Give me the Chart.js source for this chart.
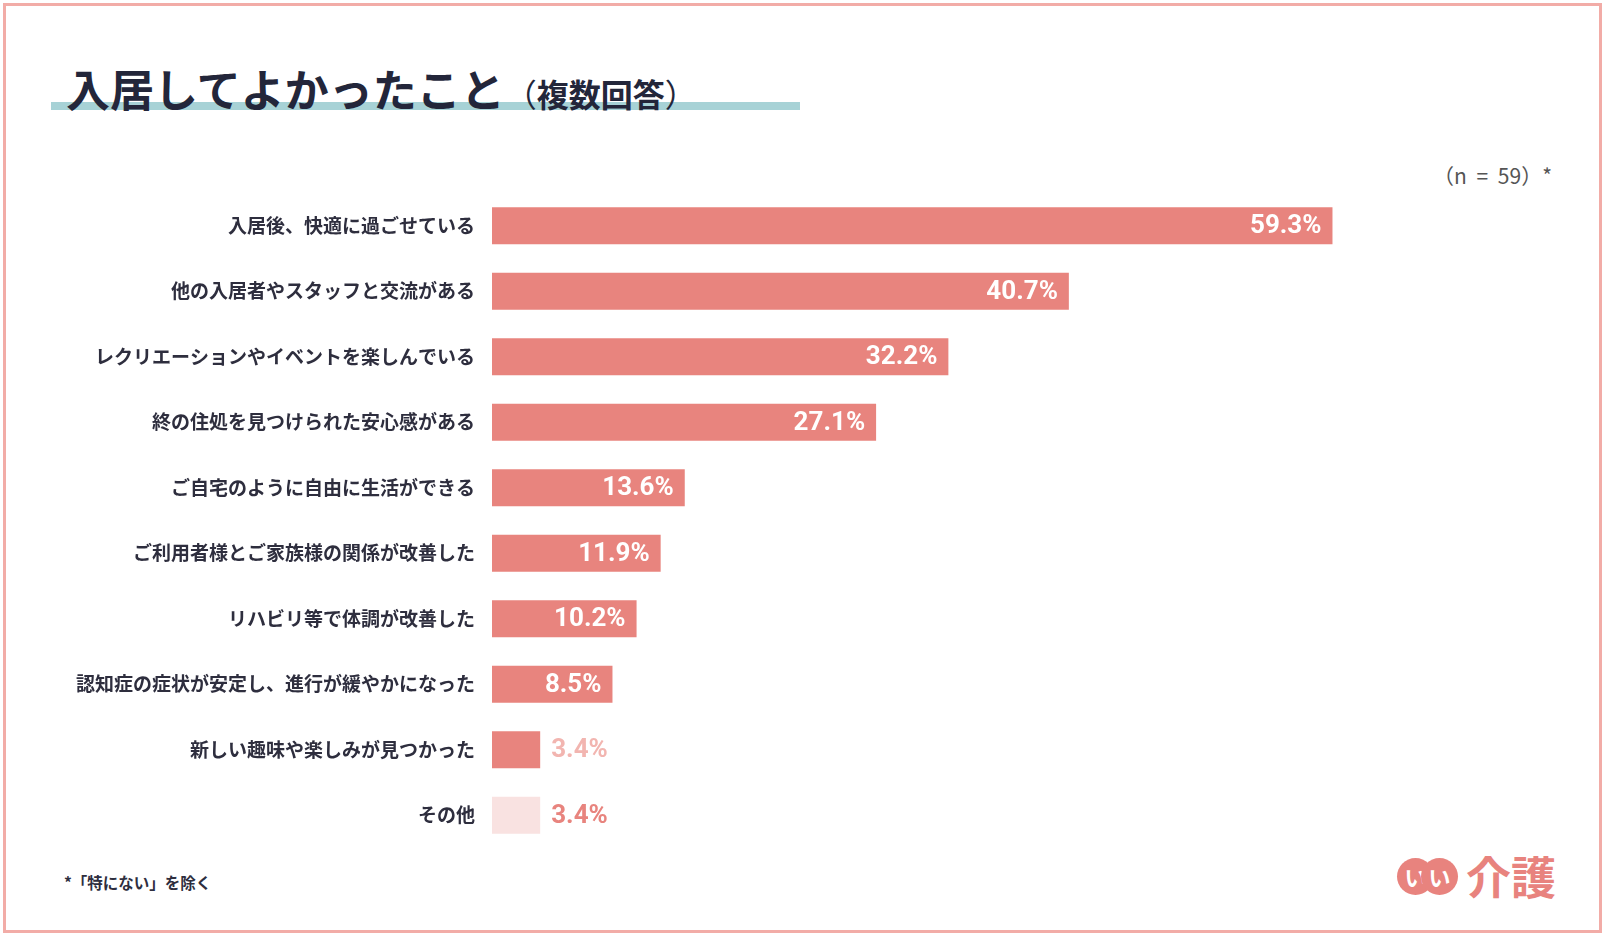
<!DOCTYPE html>
<html lang="ja">
<head>
<meta charset="utf-8">
<title>入居してよかったこと</title>
<script src="https://cdn.jsdelivr.net/npm/chart.js@4.4.1/dist/chart.umd.min.js"></script>
<style>
  html, body { margin: 0; padding: 0; background: #fff; }
  body { width: 1610px; height: 941px; position: relative; overflow: hidden;
         font-family: "Noto Sans CJK JP", "Noto Sans", sans-serif; }
  .frame { position: absolute; left: 3px; top: 3px; width: 1593px; height: 924px;
           border: 3px solid #f2aca7; }
  .title-line { position: absolute; left: 51px; top: 102px; width: 749px; height: 8px; background: #a7d2d6; }
  .title { position: absolute; left: 66px; top: 64px; font-size: 44px; line-height: 48px; font-weight: 700;
           color: #23263a; white-space: nowrap; }
  .title small { font-size: 32px; font-weight: 700; }
  .title small .p { font-weight: 400; }
  .n-note { position: absolute; right: 58px; top: 160px; font-size: 21px; color: #555; white-space: nowrap;
            word-spacing: 5px; }
  .footnote { position: absolute; left: 64px; top: 871px; font-size: 15.5px; font-weight: 700; color: #2e2e3e; }
  .logo { position: absolute; left: 1397px; top: 852px; height: 48px; display: flex; align-items: center; }
  .logo .dot { width: 37px; height: 37px; border-radius: 50%; background: #e8837e; color: #fff;
               font-size: 22px; font-weight: 700; display: flex; align-items: center; justify-content: center; }
  .logo .dot + .dot { margin-left: -13px; }
  .logo .word { margin-left: 8px; font-size: 45px; font-weight: 700; color: #e8837e; line-height: 48px; }
  #chart-wrap { position: absolute; left: 0; top: 0; width: 1610px; height: 941px; }
</style>
</head>
<body>
<div class="frame"></div>
<div class="title-line"></div>
<div class="title">入居してよかったこと<small><span class="p">（</span>複数回答<span class="p">）</span></small></div>
<div class="n-note">（n = 59）*</div>
<div class="footnote">*「特にない」を除く</div>
<div class="logo"><div class="dot">い</div><div class="dot">い</div><div class="word">介護</div></div>
<div id="chart-wrap"><canvas id="barChart"></canvas></div>

<script>
// ===== DATA =====
const categories = [
    '入居後、快適に過ごせている',
    '他の入居者やスタッフと交流がある',
    'レクリエーションやイベントを楽しんでいる',
    '終の住処を見つけられた安心感がある',
    'ご自宅のように自由に生活ができる',
    'ご利用者様とご家族様の関係が改善した',
    'リハビリ等で体調が改善した',
    '認知症の症状が安定し、進行が緩やかになった',
    '新しい趣味や楽しみが見つかった',
    'その他'
];
const percentValues = [59.3, 40.7, 32.2, 27.1, 13.6, 11.9, 10.2, 8.5, 3.4, 3.4];

// styles
const barColors = categories.map(c => c === 'その他' ? '#f9e2e1' : '#e8847e');
const outsideLabelColors = categories.map(c => c === 'その他' ? '#e8847e' : '#f2b5b0');

// value labels drawn at the end of each bar
const valueLabels = {
    id: 'valueLabels',
    afterDatasetsDraw(chart) {
        const { ctx } = chart;
        const meta = chart.getDatasetMeta(0);
        ctx.save();
        ctx.font = '700 26px Roboto, "Noto Sans", sans-serif';
        ctx.textBaseline = 'middle';
        meta.data.forEach((bar, i) => {
            const text = percentValues[i].toFixed(1) + '%';
            const w = ctx.measureText(text).width;
            const barWidth = bar.x - bar.base;
            if (w + 22 < barWidth) {
                ctx.fillStyle = '#ffffff';
                ctx.textAlign = 'right';
                ctx.fillText(text, bar.x - 11, bar.y + 1);
            } else {
                ctx.fillStyle = outsideLabelColors[i];
                ctx.textAlign = 'left';
                ctx.fillText(text, bar.x + 11, bar.y + 1);
            }
        });
        ctx.restore();
    }
};

function renderBarChart() {
    const ctx = document.getElementById('barChart');
    if (!ctx) return;

    const cfg = {
        type: 'bar',
        data: {
            labels: categories,
            datasets: [{
                data: percentValues,
                backgroundColor: barColors,
                barPercentage: 0.565,
                categoryPercentage: 1,
                borderSkipped: false
            }]
        },
        options: {
            indexAxis: 'y',
            responsive: true,
            maintainAspectRatio: false,
            animation: false,
            layout: { padding: { top: 193, bottom: 93, left: 0, right: 55 } },
            plugins: {
                legend: { display: false },
                tooltip: { enabled: false }
            },
            scales: {
                x: {
                    display: false,
                    min: 0,
                    max: 75
                },
                y: {
                    grid: { display: false, drawTicks: false },
                    border: { display: false },
                    ticks: {
                        color: '#2e2e3e',
                        padding: 17,
                        font: { family: '"Noto Sans CJK JP", sans-serif', size: 19, weight: '700' }
                    },
                    afterFit(scale) { scale.width = 492; }
                }
            }
        },
        plugins: [valueLabels]
    };

    new Chart(ctx, cfg);
}

renderBarChart();
</script>
</body>
</html>
